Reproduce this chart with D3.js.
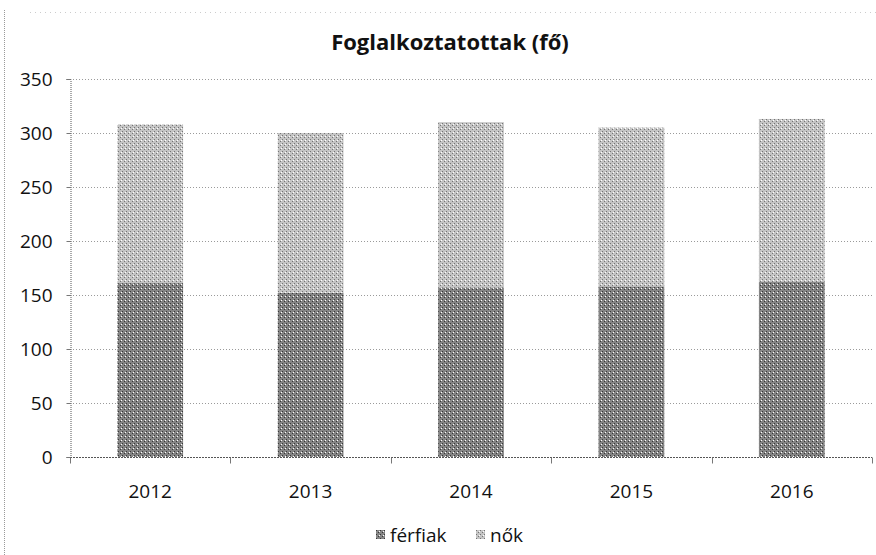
<!DOCTYPE html>
<html>
<head>
<meta charset="utf-8">
<script src="https://cdnjs.cloudflare.com/ajax/libs/d3/7.8.5/d3.min.js"></script>
<style>
  body { margin: 0; background: #fff; }
  svg text { font-family: "Open Sans", sans-serif; fill: #111; }
</style>
</head>
<body>
<svg id="chart" width="876" height="555"></svg>
<script>
// values
var years = ["2012", "2013", "2014", "2015", "2016"];
var ferfiak = [161, 152, 157, 158, 162];
var nok = [147, 148, 153, 147, 151];
var seriesNames = ["férfiak", "nők"];
var yTicks = [0, 50, 100, 150, 200, 250, 300, 350];

var svg = d3.select("#chart"),
    margin = {top: 79, right: 4, bottom: 98, left: 70},
    width = +svg.attr("width") - margin.left - margin.right,
    height = +svg.attr("height") - margin.top - margin.bottom;

// grainy fills, like the scanned print
var defs = svg.append("defs");
function grain(id, base, dots) {
  var p = defs.append("pattern").attr("id", id)
    .attr("width", 4).attr("height", 4).attr("patternUnits", "userSpaceOnUse");
  p.append("rect").attr("width", 4).attr("height", 4).attr("fill", base);
  p.append("rect").attr("x", 0).attr("y", 0).attr("width", 1).attr("height", 1).attr("fill", dots);
  p.append("rect").attr("x", 2).attr("y", 2).attr("width", 1).attr("height", 1).attr("fill", dots);
  p.append("rect").attr("x", 3).attr("y", 1).attr("width", 1).attr("height", 1).attr("fill", "#fff");
}
grain("pf", "#858585", "#383838");
grain("pn", "#c4c4c4", "#747474");
var fills = ["url(#pf)", "url(#pn)"];

// faint dotted frame of the chart area
svg.append("line").attr("x1", 4.5).attr("x2", 4.5).attr("y1", 10).attr("y2", 555)
  .attr("stroke", "#999").attr("stroke-dasharray", "1,1");
svg.append("line").attr("x1", 30).attr("x2", 876).attr("y1", 12.5).attr("y2", 12.5)
  .attr("stroke", "#ccc").attr("stroke-dasharray", "1,4");

var g = svg.append("g").attr("transform", "translate(" + margin.left + "," + margin.top + ")");

var x = d3.scaleBand().domain(years).range([0, width]).paddingInner(0.59).paddingOuter(0.295);
var y = d3.scaleLinear().domain([0, 350]).range([height, 0]);

// gridlines
g.selectAll(".grid").data(yTicks).enter().append("line")
  .attr("x1", 0).attr("x2", width)
  .attr("y1", function (d) { return Math.round(y(d)) + 0.5; })
  .attr("y2", function (d) { return Math.round(y(d)) + 0.5; })
  .attr("stroke", "#9a9a9a").attr("stroke-dasharray", "1,2");

// stacked bars
var rows = years.map(function (yr, i) { return {year: yr, "férfiak": ferfiak[i], "nők": nok[i]}; });
var stacked = d3.stack().keys(seriesNames)(rows);

g.selectAll(".layer").data(stacked).enter().append("g")
  .attr("fill", function (d, i) { return fills[i]; })
  .selectAll("rect").data(function (d) { return d; }).enter().append("rect")
  .attr("x", function (d) { return x(d.data.year); })
  .attr("width", x.bandwidth())
  .attr("y", function (d) { return y(d[1]); })
  .attr("height", function (d) { return y(d[0]) - y(d[1]); });

// y axis
var yAxis = g.append("g").attr("transform", "translate(0.5,0)")
  .call(d3.axisLeft(y).tickValues(yTicks).tickSize(4).tickPadding(14));
yAxis.select(".domain").attr("stroke", "#555").attr("stroke-dasharray", "1,1");
yAxis.selectAll(".tick line").attr("stroke", "#777");
yAxis.selectAll("text").style("font-size", "19px").attr("fill", "#111");

// x axis with ticks between categories
var xAxis = g.append("g").attr("transform", "translate(0," + (Math.round(height) + 0.5) + ")");
xAxis.append("line").attr("x1", 0).attr("x2", width).attr("stroke", "#555").attr("stroke-dasharray", "2,1");
xAxis.selectAll(".sep").data(d3.range(years.length + 1)).enter().append("line")
  .attr("x1", function (i) { return Math.round(i * x.step()) + 0.5; })
  .attr("x2", function (i) { return Math.round(i * x.step()) + 0.5; })
  .attr("y1", 0).attr("y2", 6).attr("stroke", "#777");
xAxis.selectAll(".lbl").data(years).enter().append("text")
  .attr("x", function (d) { return x(d) + x.bandwidth() / 2; })
  .attr("y", 40).attr("text-anchor", "middle").style("font-size", "19px")
  .text(function (d) { return d; });

// title
svg.append("text").attr("x", 450).attr("y", 50).attr("text-anchor", "middle")
  .style("font-size", "22px").style("font-weight", "bold")
  .text("Foglalkoztatottak (fő)");

// legend
var legend = svg.append("g").attr("transform", "translate(376,542)");
var lx = [0, 100];
seriesNames.forEach(function (name, i) {
  var item = legend.append("g").attr("transform", "translate(" + lx[i] + ",0)");
  item.append("rect").attr("y", -12).attr("width", 9).attr("height", 9).attr("fill", fills[i]);
  item.append("text").attr("x", 14).attr("y", 0).style("font-size", "19px").text(name);
});
</script>
</body>
</html>
